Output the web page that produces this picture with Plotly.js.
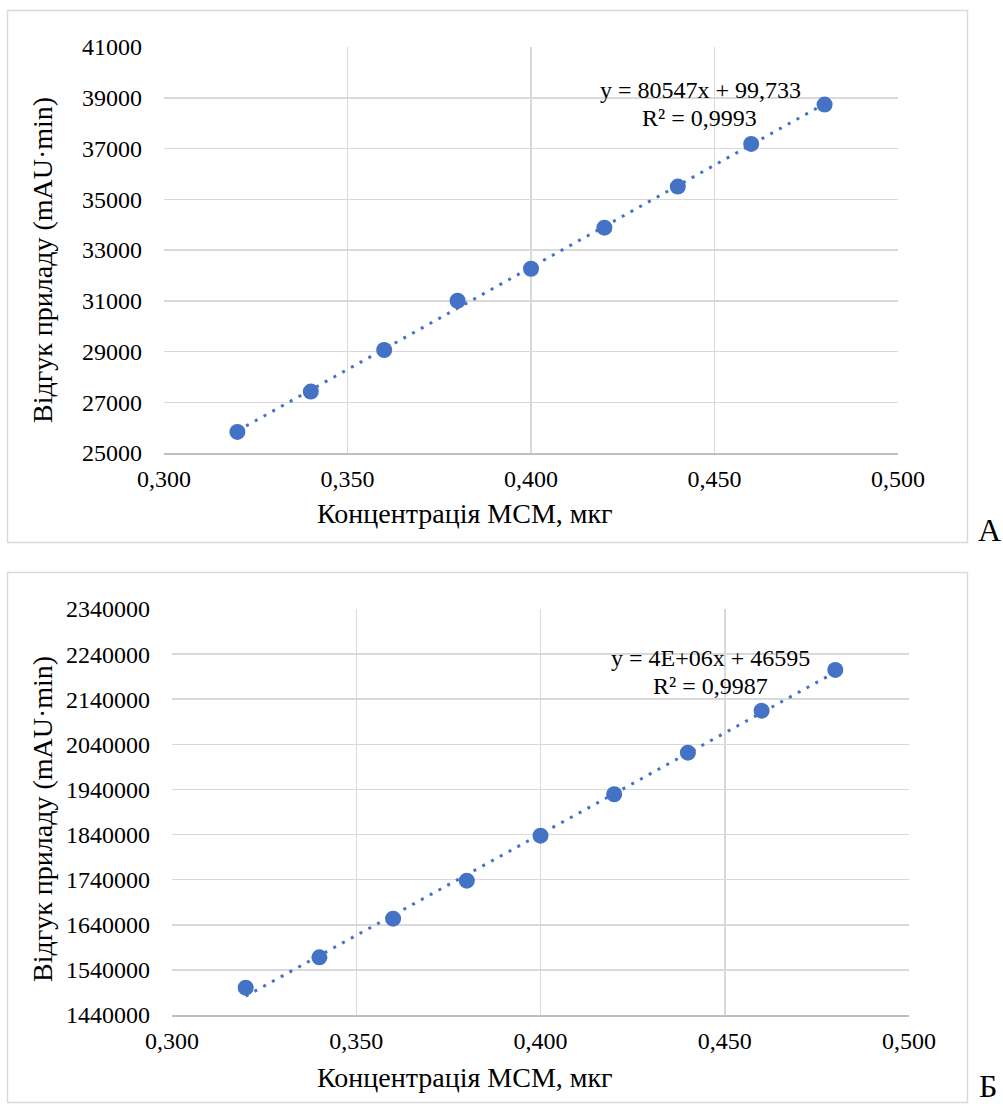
<!DOCTYPE html>
<html>
<head>
<meta charset="utf-8">
<script src="https://cdn.plot.ly/plotly-3.0.1.min.js"></script>
<style>html,body{margin:0;padding:0;background:#fff;}#chart{width:1003px;height:1106px;}</style>
</head>
<body>
<div id="chart"></div>
<script>
// ---- data ----
const concentration = [0.32, 0.34, 0.36, 0.38, 0.40, 0.42, 0.44, 0.46, 0.48];
const responseA = [25830, 27420, 29060, 31000, 32260, 33880, 35500, 37180, 38730];
const responseB = [1500500, 1567900, 1653500, 1737800, 1837600, 1929300, 2021600, 2114700, 2205000];
const equationA = ["y = 80547x + 99,733", "R² = 0,9993"];
const equationB = ["y = 4E+06x + 46595", "R² = 0,9987"];
const xTitle = "Концентрація МСМ, мкг";
const yTitle = "Відгук приладу (mAU·min)";
const panelLabels = ["А", "Б"];

// ---- helpers ----
function linfit(xs, ys) {
  const n = xs.length;
  const mx = xs.reduce((a, b) => a + b, 0) / n;
  const my = ys.reduce((a, b) => a + b, 0) / n;
  let sxy = 0, sxx = 0;
  for (let i = 0; i < n; i++) { sxy += (xs[i] - mx) * (ys[i] - my); sxx += (xs[i] - mx) ** 2; }
  const k = sxy / sxx;
  return { k: k, b: my - k * mx };
}
const W = 1003, H = 1106;
const px = x => x / W;
const py = y => 1 - y / H;

const blue = "#4472C4";
const FONT = "'Liberation Serif', 'DejaVu Serif', serif";

function trend(xs, ys, xa, ya) {
  const f = linfit(xs, ys);
  const x0 = Math.min(...xs), x1 = Math.max(...xs);
  return {
    x: [x0, x1], y: [f.k * x0 + f.b, f.k * x1 + f.b],
    xaxis: xa, yaxis: ya, mode: "lines", hoverinfo: "skip",
    line: { color: blue, width: 3, dash: "3px,7px" }, showlegend: false
  };
}

const traces = [
  trend(concentration, responseA, "x", "y"),
  { x: concentration, y: responseA, xaxis: "x", yaxis: "y", mode: "markers",
    marker: { color: blue, size: 16 }, showlegend: false },
  trend(concentration, responseB, "x2", "y2"),
  { x: concentration, y: responseB, xaxis: "x2", yaxis: "y2", mode: "markers",
    marker: { color: blue, size: 16 }, showlegend: false }
];

const gridC = "#d9d9d9";
function xAx(domain, anchor) {
  return {
    domain: domain, anchor: anchor, range: [0.3, 0.5], dtick: 0.05, tick0: 0.3,
    tickformat: ".3f", showgrid: true, gridcolor: gridC, gridwidth: 1.5,
    zeroline: false, showline: true, linecolor: "#bfbfbf", linewidth: 2,
    ticks: "", ticklabelstandoff: 3,
    tickfont: { family: FONT, size: 24, color: "#000" }
  };
}
function yAx(domain, anchor, range, dtick) {
  return {
    domain: domain, anchor: anchor, range: range, dtick: dtick, tick0: range[0],
    tickformat: "d", showgrid: true, gridcolor: gridC, gridwidth: 1.5,
    zeroline: false, showline: false, ticks: "", ticklabelstandoff: 21,
    tickfont: { family: FONT, size: 24, color: "#000" }
  };
}

function ann(text, x, y, size, rot) {
  return { text: text, xref: "paper", yref: "paper", x: px(x), y: py(y),
    xanchor: "center", yanchor: "middle", showarrow: false, textangle: rot || 0,
    font: { family: FONT, size: size, color: "#000" } };
}

const layout = {
  width: W, height: H,
  margin: { l: 0, r: 0, t: 0, b: 0 },
  paper_bgcolor: "#fff", plot_bgcolor: "#fff",
  font: { family: FONT, color: "#000" },
  separators: ", ",
  showlegend: false,
  xaxis: xAx([px(164), px(898)], "y"),
  yaxis: yAx([py(453), py(47)], "x", [25000, 41000], 2000),
  xaxis2: xAx([px(172), px(909)], "y2"),
  yaxis2: yAx([py(1015), py(609)], "x2", [1440000, 2340000], 100000),
  shapes: [
    { type: "rect", xref: "paper", yref: "paper", x0: px(7.5), x1: px(967.5), y0: py(10.5), y1: py(542.5),
      line: { color: "#d9d9d9", width: 1.5 }, layer: "below" },
    { type: "rect", xref: "paper", yref: "paper", x0: px(7.5), x1: px(967.5), y0: py(572.5), y1: py(1102.5),
      line: { color: "#d9d9d9", width: 1.5 }, layer: "below" }
  ],
  annotations: [
    ann(equationA[0], 700, 90, 24),
    ann(equationA[1], 699, 118, 24),
    ann(equationB[0], 710, 658, 24),
    ann(equationB[1], 710, 686, 24),
    ann(xTitle, 465, 513, 28),
    ann(xTitle, 465, 1077, 28),
    ann(yTitle, 42, 260, 28, -90),
    ann(yTitle, 42, 819, 28, -90),
    ann(panelLabels[0], 989, 530, 32),
    ann(panelLabels[1], 988, 1086, 32)
  ]
};

Plotly.newPlot("chart", traces, layout, { staticPlot: true, displayModeBar: false });
</script>
</body>
</html>
